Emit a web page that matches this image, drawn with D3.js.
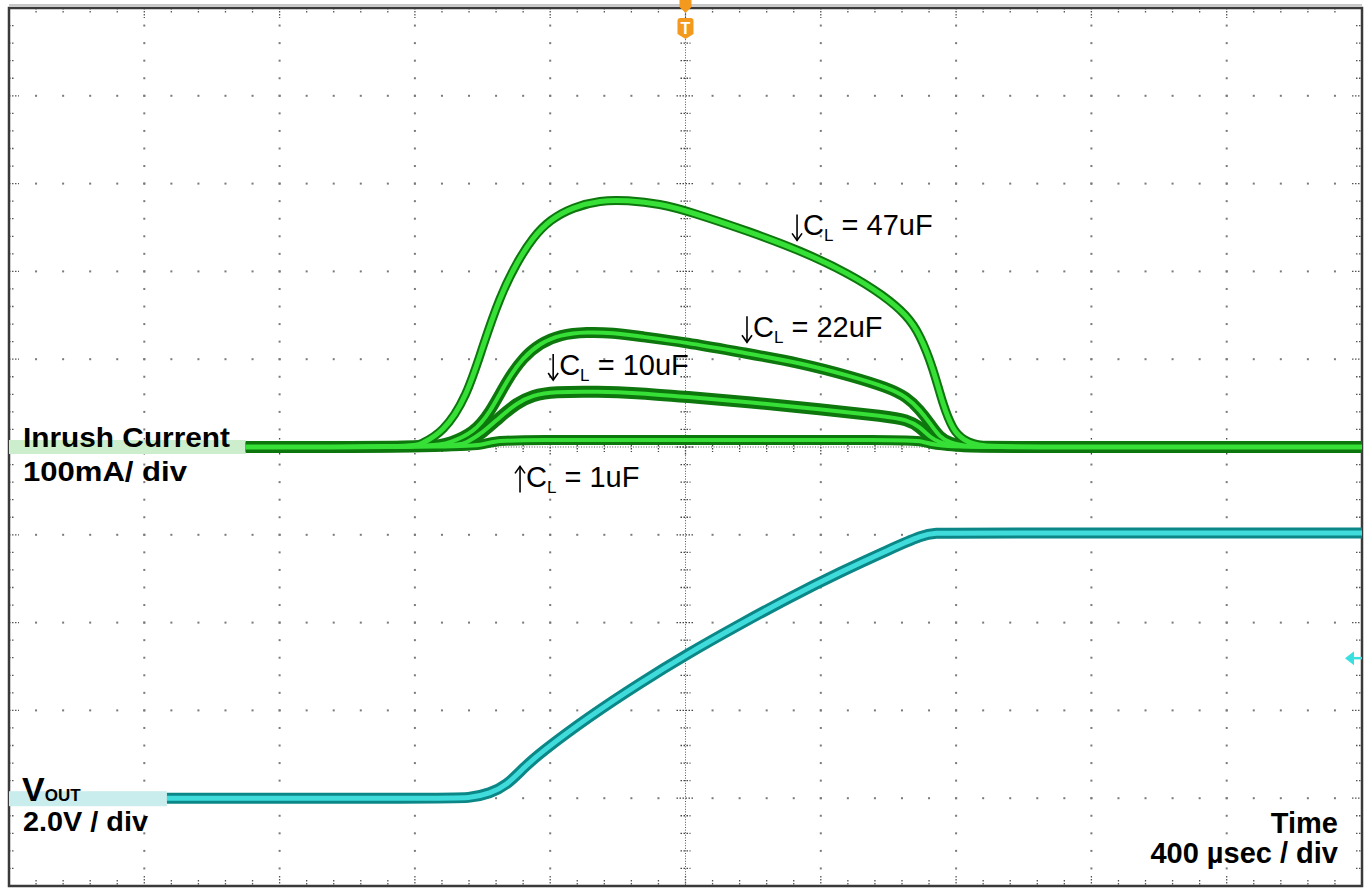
<!DOCTYPE html>
<html lang="en">
<head>
<meta charset="utf-8">
<title>Inrush Current vs Load Capacitance</title>
<script src="https://d3js.org/d3.v7.min.js"></script>
<style>
  body { margin: 0; background: #fff; }
  .lbl { font-family: "Liberation Sans", Arial, sans-serif; font-weight: bold; fill: #000; }
  .ann { font-family: "Liberation Sans", Arial, sans-serif; font-size: 29px; fill: #000; }
</style>
</head>
<body>
<svg width="1364" height="888"></svg>
<script>
// ---- data (time in usec, current in mA, voltage in V) ----
const cl47 = [[-1300,0],[-800,0],[-785,3],[-717,16],[-647,57],[-600,114],[-549,171],[-499,210],[-451,239],[-400,259],[-333,273],[-253,281],[-173,281],[-75,277],[13,268],[191,245],[338,224],[486,197],[584,173],[655,150],[693,128],[732,90],[761,48],[791,19],[821,8],[871,0],[1000,0],[2000,0]];
const cl22 = [[-1300,0],[-740,0],[-696,5],[-628,16],[-578,39],[-528,76],[-480,102],[-430,118],[-371,128],[-291,131],[-214,130],[-135,126],[4,119],[161,108],[338,96],[495,80],[595,68],[655,57],[693,42],[723,27],[752,11],[782,5],[826,0],[1000,0],[2000,0]];
const cl10 = [[-1300,0],[-680,0],[-647,5],[-600,16],[-549,34],[-499,50],[-451,59],[-392,63],[-253,63],[-155,62],[4,57],[191,51],[397,43],[595,35],[655,31],[693,23],[723,11],[752,5],[796,0],[1000,0],[2000,0]];
const cl1 = [[-1300,0],[-636,0],[-600,3],[-558,7],[-490,8],[43,8],[634,8],[708,7],[737,0],[1000,0],[2000,0]];
const vout = [[-1533,0],[-726,0],[-637,0],[-578,0.11],[-528,0.30],[-480,0.68],[-430,1.03],[-283,1.87],[-135,2.62],[4,3.28],[161,3.96],[309,4.58],[457,5.15],[604,5.67],[702,6.0],[737,6.04],[800,6.04],[2000,6.04]];

const seriesNames = ["1uF", "10uF", "22uF", "47uF"];
const seriesData = [cl1, cl10, cl22, cl47];
// annotation anchors: [time, current]
const annotations = [
  {dir: "down", value: "47uF", at: [315, 241]},
  {dir: "down", value: "22uF", at: [167, 125]},
  {dir: "down", value: "10uF", at: [-406, 82]},
  {dir: "up",   value: "1uF",  at: [-504, -46]}
];
const triggerLevel = 3.19; // V, channel 2 marker

// ---- layout ----
const svg = d3.select("svg");
const W = 1364, H = 888;
const L = 9, R = 1362, T = 8, B = 886;

const x = d3.scaleLinear().domain([-2000, 2000]).range([L, R]);
const yDiv = d3.scaleLinear().domain([-5, 5]).range([B, T]);
const yI = d3.scaleLinear().domain([-500, 500]).range([B, T]);   // 100mA / div
const yV = d3.scaleLinear().domain([-2, 18]).range([B, T]);      // 2.0V / div

const majorT = d3.range(-2000, 2001, 400);
const minorT = d3.range(-2000, 2001, 80);
const majorD = d3.range(-5, 6);
const minorD = d3.range(-25, 26).map(d => d / 5);

svg.append("rect").attr("width", W).attr("height", H).attr("fill", "#fff");

// ---- graticule ----
const grid = svg.append("g");
const dotCol = "#7a7a7a";

// dots along major rows
majorD.filter(d => Math.abs(d) < 5 && d !== 0).forEach(d => {
  grid.selectAll(null).data(minorT.filter(t => Math.abs(t) < 2000 && t !== 0)).enter()
    .append("rect")
    .attr("x", t => x(t) - 1).attr("y", yDiv(d) - 1)
    .attr("width", 2).attr("height", 2).attr("fill", dotCol);
});
// dots along major columns
majorT.filter(t => Math.abs(t) < 2000 && t !== 0).forEach(t => {
  grid.selectAll(null).data(minorD.filter(d => Math.abs(d) < 5 && d !== 0)).enter()
    .append("rect")
    .attr("x", x(t) - 1).attr("y", d => yDiv(d) - 1)
    .attr("width", 2).attr("height", 2).attr("fill", dotCol);
});

// center axes, densely dotted with ticks
grid.append("line")
  .attr("x1", x(0)).attr("x2", x(0)).attr("y1", T).attr("y2", B)
  .attr("stroke", "#555").attr("stroke-width", 1).attr("stroke-dasharray", "1,1.6");
grid.append("line")
  .attr("x1", L).attr("x2", R).attr("y1", yDiv(0)).attr("y2", yDiv(0))
  .attr("stroke", "#555").attr("stroke-width", 1).attr("stroke-dasharray", "1,1.6");

minorD.filter(d => Math.abs(d) < 5).forEach(d => {
  const len = Number.isInteger(d) ? 9 : 5;
  grid.append("line")
    .attr("x1", x(0) - len).attr("x2", x(0) + len)
    .attr("y1", yDiv(d)).attr("y2", yDiv(d))
    .attr("stroke", "#444").attr("stroke-width", 1.3).attr("stroke-dasharray", "1.5,1.5");
  // border ticks left / right
  const bl = Number.isInteger(d) ? 10 : 6;
  grid.append("line").attr("x1", L).attr("x2", L + bl).attr("y1", yDiv(d)).attr("y2", yDiv(d))
    .attr("stroke", "#555").attr("stroke-width", 1.3).attr("stroke-dasharray", "1.5,1.5");
  grid.append("line").attr("x1", R - bl).attr("x2", R).attr("y1", yDiv(d)).attr("y2", yDiv(d))
    .attr("stroke", "#555").attr("stroke-width", 1.3).attr("stroke-dasharray", "1.5,1.5");
});
minorT.filter(t => Math.abs(t) < 2000).forEach(t => {
  const len = (t % 400 === 0) ? 9 : 5;
  grid.append("line")
    .attr("x1", x(t)).attr("x2", x(t))
    .attr("y1", yDiv(0) - len).attr("y2", yDiv(0) + len)
    .attr("stroke", "#444").attr("stroke-width", 1.3).attr("stroke-dasharray", "1.5,1.5");
  const bl = (t % 400 === 0) ? 10 : 6;
  grid.append("line").attr("x1", x(t)).attr("x2", x(t)).attr("y1", T).attr("y2", T + bl)
    .attr("stroke", "#555").attr("stroke-width", 1.3).attr("stroke-dasharray", "1.5,1.5");
  grid.append("line").attr("x1", x(t)).attr("x2", x(t)).attr("y1", B - bl).attr("y2", B)
    .attr("stroke", "#555").attr("stroke-width", 1.3).attr("stroke-dasharray", "1.5,1.5");
});

// border
svg.append("line").attr("x1", L).attr("x2", R).attr("y1", T - 3).attr("y2", T - 3)
  .attr("stroke", "#c8c8c8").attr("stroke-width", 2);
svg.append("rect")
  .attr("x", L).attr("y", T).attr("width", R - L).attr("height", B - T)
  .attr("fill", "none").attr("stroke", "#3a3a3a").attr("stroke-width", 2.5);

// ---- label bands (channel reference highlight) ----
svg.append("rect")
  .attr("x", x(-2000)).attr("width", x(-1300) - x(-2000))
  .attr("y", yI(0) - 7).attr("height", 14).attr("fill", "#cdeecd");
svg.append("rect")
  .attr("x", x(-2000)).attr("width", x(-1533) - x(-2000))
  .attr("y", yV(0) - 7).attr("height", 15).attr("fill", "#c9ecec");

// ---- traces ----
const lineI = d3.line().x(d => x(d[0])).y(d => yI(d[1])).curve(d3.curveBasis);
const lineV = d3.line().x(d => x(d[0])).y(d => yV(d[1])).curve(d3.curveBasis);

const outerW = {"1uF": 10, "10uF": 12, "22uF": 11, "47uF": 9};
const traces = svg.append("g");
seriesData.forEach((s, i) => {
  traces.append("path").attr("d", lineI(s))
    .attr("fill", "none").attr("stroke", "#0d760d")
    .attr("stroke-width", outerW[seriesNames[i]]).attr("stroke-linejoin", "round");
});
seriesData.forEach((s, i) => {
  traces.append("path").attr("d", lineI(s))
    .attr("fill", "none").attr("stroke", "#36e036")
    .attr("stroke-width", seriesNames[i] === "47uF" ? 5 : 4).attr("stroke-linejoin", "round");
});

traces.append("path").attr("d", lineV(vout))
  .attr("fill", "none").attr("stroke", "#0b8787").attr("stroke-width", 11);
traces.append("path").attr("d", lineV(vout))
  .attr("fill", "none").attr("stroke", "#40dcdc").attr("stroke-width", 5);

// ---- markers ----
// trigger position "T"
const tx = x(0);
svg.append("path")
  .attr("d", `M${tx - 6},${T - 8} L${tx + 6},${T - 8} L${tx + 6},${T - 1} L${tx},${T + 5} L${tx - 6},${T - 1} Z`)
  .attr("fill", "#f39a1e");
svg.append("path")
  .attr("d", `M${tx - 8},${T + 13} Q${tx - 8},${T + 10} ${tx - 5},${T + 10} L${tx + 5},${T + 10} Q${tx + 8},${T + 10} ${tx + 8},${T + 13} L${tx + 8},${T + 26} L${tx},${T + 31} L${tx - 8},${T + 26} Z`)
  .attr("fill", "#f39a1e");
svg.append("text")
  .attr("x", tx).attr("y", T + 26).attr("text-anchor", "middle")
  .attr("font-family", "Liberation Sans, Arial, sans-serif").attr("font-weight", "bold")
  .attr("font-size", 16).attr("fill", "#fff").text("T");

// trigger level arrow
const ty = yV(triggerLevel);
svg.append("path")
  .attr("d", `M${R - 17},${ty} L${R - 8},${ty - 7} L${R - 8},${ty + 7} Z`)
  .attr("fill", "#3ae0e0");
svg.append("line").attr("x1", R - 9).attr("x2", R).attr("y1", ty).attr("y2", ty)
  .attr("stroke", "#3ae0e0").attr("stroke-width", 2.5);

// ---- channel labels ----
svg.append("text").attr("class", "lbl").attr("font-size", 27)
  .attr("x", 23).attr("y", yI(0))
  .attr("textLength", 207).attr("lengthAdjust", "spacingAndGlyphs")
  .text("Inrush Current");
svg.append("text").attr("class", "lbl").attr("font-size", 27)
  .attr("x", 23).attr("y", yI(0) + 34)
  .attr("textLength", 164).attr("lengthAdjust", "spacingAndGlyphs")
  .text("100mA/ div");

const vl = svg.append("text").attr("class", "lbl")
  .attr("x", 22).attr("y", yV(0) + 3);
vl.append("tspan").attr("font-size", 34).text("V");
vl.append("tspan").attr("font-size", 17).text("OUT");
svg.append("text").attr("class", "lbl").attr("font-size", 27)
  .attr("x", 23).attr("y", yV(0) + 33)
  .attr("textLength", 125).attr("lengthAdjust", "spacingAndGlyphs")
  .text("2.0V / div");

svg.append("text").attr("class", "lbl").attr("font-size", 29)
  .attr("x", 1338).attr("y", 833).attr("text-anchor", "end")
  .text("Time");
svg.append("text").attr("class", "lbl").attr("font-size", 29)
  .attr("x", 1338).attr("y", 863).attr("text-anchor", "end")
  .text("400 \u00b5sec / div");

// ---- annotations ----
annotations.forEach(a => {
  const ax = x(a.at[0]), ay = yI(a.at[1]);
  // thin arrow drawn as a path, about cap height tall
  const top = ay - 21, bot = ay + 5, cx = ax + 5;
  const g = svg.append("g").attr("stroke", "#000").attr("fill", "none")
    .attr("stroke-width", 1.6);
  g.append("line").attr("x1", cx).attr("x2", cx).attr("y1", top).attr("y2", bot);
  if (a.dir === "down") {
    g.append("path").attr("d", `M${cx - 5},${bot - 7} L${cx},${bot} L${cx + 5},${bot - 7}`);
  } else {
    g.append("path").attr("d", `M${cx - 5},${top + 7} L${cx},${top} L${cx + 5},${top + 7}`);
  }
  const t = svg.append("text").attr("class", "ann")
    .attr("x", ax + 11).attr("y", ay);
  t.append("tspan").text("C");
  t.append("tspan").attr("font-size", 17).attr("dy", 6).text("L");
  t.append("tspan").attr("dy", -6).text(" = " + a.value);
});
</script>
</body>
</html>
